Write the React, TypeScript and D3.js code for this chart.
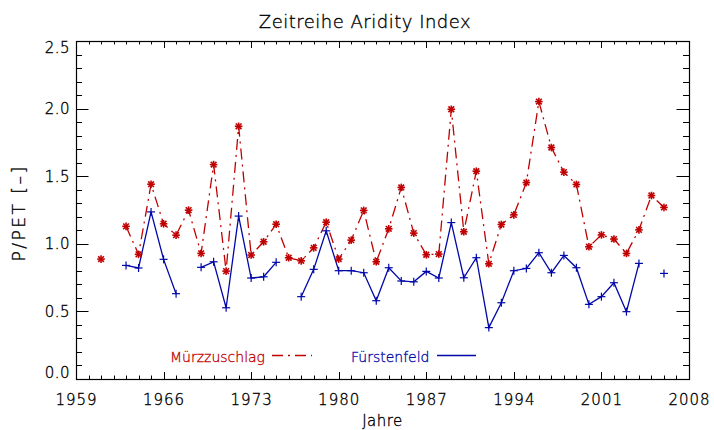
import React from "react";
import * as d3 from "d3";

const years: number[] = d3.range(1961, 2007);
const muerzzuschlag: (number | null)[] = [
  0.887, null, 1.129, 0.922, 1.441, 1.148, 1.064, 1.249, 0.929, 1.586,
  0.798, 1.869, 0.917, 1.015, 1.145, 0.897, 0.874, 0.970, 1.160, 0.887,
  1.027, 1.247, 0.867, 1.111, 1.417, 1.079, 0.919, 0.924, 1.995, 1.089,
  1.537, 0.852, 1.143, 1.214, 1.453, 2.052, 1.712, 1.530, 1.439, 0.978,
  1.066, 1.035, 0.929, 1.103, 1.357, 1.269,
];
const fuerstenfeld: (number | null)[] = [
  null, null, 0.840, 0.821, 1.236, 0.885, 0.631, null, 0.826, 0.867,
  0.527, 1.205, 0.747, 0.756, 0.863, null, 0.609, 0.811, 1.096, 0.801,
  0.801, 0.786, 0.579, 0.823, 0.725, 0.719, 0.796, 0.747, 1.157, 0.749,
  0.897, 0.380, 0.564, 0.801, 0.818, 0.934, 0.786, 0.914, 0.823, 0.552,
  0.609, 0.712, 0.498, 0.855, null, 0.781,
];
const xMajorTicks: number[] = [1959, 1966, 1973, 1980, 1987, 1994, 2001, 2008];
const yMajorTicks: number[] = [0, 0.5, 1.0, 1.5, 2.0, 2.5];
const seriesNames: string[] = ["Mürzzuschlag", "Fürstenfeld"];

const W = 714, H = 430;
const L = 76, R = 689, T = 41, B = 379;
const RED = "#c00000";
const BLUE = "#0008a8";
const FONT = "DejaVu Sans, sans-serif";
const TXT = "#000";

export default function App() {
  const x = d3.scaleLinear().domain([1959, 2008]).range([L, R]);
  const y = d3.scaleLinear().domain([0, 2.5]).range([B, T]);

  type P = { yr: number; v: number | null };
  const red: P[] = years.map((yr, i) => ({ yr, v: muerzzuschlag[i] }));
  const blue: P[] = years.map((yr, i) => ({ yr, v: fuerstenfeld[i] }));
  const line = d3
    .line<P>()
    .defined((d) => d.v !== null)
    .x((d) => x(d.yr))
    .y((d) => y(d.v as number));

  const xMinor = d3.range(1959, 2009);
  const yMinor = d3.range(0, 26).map((i) => i / 10);

  const ticks: JSX.Element[] = [];
  xMinor.forEach((t) => {
    const major = xMajorTicks.includes(t);
    const len = major ? 7 : 3.5;
    const px = Math.round(x(t)) + 0.5;
    ticks.push(<line key={"xb" + t} x1={px} x2={px} y1={B} y2={B - len} stroke="#000" strokeWidth={1} />);
    ticks.push(<line key={"xt" + t} x1={px} x2={px} y1={T} y2={T + len} stroke="#000" strokeWidth={1} />);
  });
  yMinor.forEach((t, i) => {
    const major = i % 5 === 0;
    const len = major ? 12.5 : 6;
    const py = Math.round(y(t)) + 0.5;
    ticks.push(<line key={"yl" + i} x1={L} x2={L + len} y1={py} y2={py} stroke="#000" strokeWidth={1} />);
    ticks.push(<line key={"yr" + i} x1={R} x2={R - len} y1={py} y2={py} stroke="#000" strokeWidth={1} />);
  });

  const asterisk = (cx: number, cy: number, k: string) => {
    const r = 3.8;
    const d = r * 0.75;
    return (
      <g key={k} stroke={RED} strokeWidth={1.6}>
        <line x1={cx - r} x2={cx + r} y1={cy} y2={cy} />
        <line x1={cx} x2={cx} y1={cy - r} y2={cy + r} />
        <line x1={cx - d} x2={cx + d} y1={cy - d} y2={cy + d} />
        <line x1={cx - d} x2={cx + d} y1={cy + d} y2={cy - d} />
      </g>
    );
  };
  const plus = (cx: number, cy: number, k: string) => (
    <g key={k} stroke={BLUE} strokeWidth={1.2}>
      <line x1={cx - 4} x2={cx + 4} y1={cy} y2={cy} />
      <line x1={cx} x2={cx} y1={cy - 4} y2={cy + 4} />
    </g>
  );

  const ts = { stroke: TXT, strokeWidth: 0.35, fill: TXT };

  return (
    <svg
      width={W}
      height={H}
      style={{ position: "fixed", left: 0, top: 0, background: "#fff" }}
      fontFamily={FONT}
      fontWeight={200}
    >
      <rect x={0} y={0} width={W} height={H} fill="#fff" />
      <text x={365} y={28} fontSize={18} letterSpacing={0.5} textAnchor="middle" {...ts}>
        Zeitreihe Aridity Index
      </text>

      {/* data */}
      <path d={line(red) || ""} fill="none" stroke={RED} strokeWidth={1.3} strokeDasharray="11,5,2,5" />
      <path d={line(blue) || ""} fill="none" stroke={BLUE} strokeWidth={1.3} />
      {red.filter((d) => d.v !== null).map((d) => asterisk(x(d.yr), y(d.v as number), "r" + d.yr))}
      {blue.filter((d) => d.v !== null).map((d) => plus(x(d.yr), y(d.v as number), "b" + d.yr))}

      {/* frame */}
      <rect x={L + 0.5} y={T + 0.5} width={R - L} height={B - T} fill="none" stroke="#000" strokeWidth={1.2} />
      {ticks}

      {/* x tick labels */}
      {xMajorTicks.map((t) => (
        <text key={"xl" + t} x={x(t) + 0.5} y={405} fontSize={15} letterSpacing={1} textAnchor="middle" {...ts}>
          {String(t)}
        </text>
      ))}
      {/* y tick labels */}
      {yMajorTicks.map((t) => {
        const cy = Math.min(Math.max(y(t), T + 6.5), B - 6.5);
        return (
          <text key={"yl" + t} x={70} y={cy + 5.5} fontSize={15} letterSpacing={0.5} textAnchor="end" {...ts}>
            {t.toFixed(1)}
          </text>
        );
      })}

      <text x={(L + R) / 2} y={426} fontSize={15} letterSpacing={0.5} textAnchor="middle" {...ts}>
        Jahre
      </text>
      <text
        transform={`translate(25,${(T + B) / 2 + 3}) rotate(-90)`}
        fontSize={17}
        letterSpacing={2.5}
        textAnchor="middle"
        {...ts}
      >
        P/PET [–]
      </text>

      {/* legend */}
      <text x={170} y={362} fontSize={14} fill={RED} stroke={RED} strokeWidth={0.3}>{seriesNames[0]}</text>
      <line x1={272} x2={312} y1={355.5} y2={355.5} stroke={RED} strokeWidth={1.3} strokeDasharray="11,5,2,5" />
      <text x={351} y={362} fontSize={14} fill={BLUE} stroke={BLUE} strokeWidth={0.3}>{seriesNames[1]}</text>
      <line x1={437} x2={476} y1={355.5} y2={355.5} stroke={BLUE} strokeWidth={1.3} />
    </svg>
  );
}
